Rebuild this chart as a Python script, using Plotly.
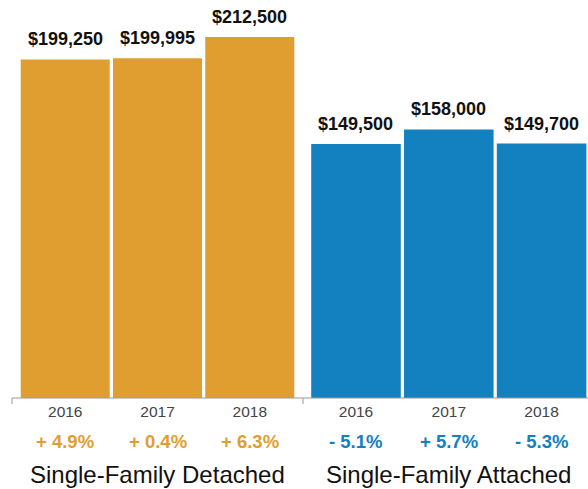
import plotly.graph_objects as go

years = ["2016", "2017", "2018"]
groups = ["Single-Family Detached", "Single-Family Attached"]
detached_prices = [199250, 199995, 212500]
attached_prices = [149500, 158000, 149700]
detached_change = [4.9, 0.4, 6.3]
attached_change = [-5.1, 5.7, -5.3]
colors = ["#E09E30", "#1380BF"]

W, H = 588, 489
base_y = 398  # plot bottom in px

fig = go.Figure()
series = [detached_prices, attached_prices]
changes = [detached_change, attached_change]
axes = [("x", "y"), ("x2", "y2")]
FONT = "Liberation Sans, Arial, sans-serif"

annotations = []
for gi, (vals, chg) in enumerate(zip(series, changes)):
    xa, ya = axes[gi]
    fig.add_trace(go.Bar(
        x=years, y=vals, marker=dict(color=colors[gi], line=dict(width=0)),
        xaxis=xa, yaxis=ya, hoverinfo="skip", showlegend=False,
    ))
    for i, (v, c) in enumerate(zip(vals, chg)):
        annotations.append(dict(
            x=i, y=v, xref=xa, yref=ya, text="<b>$" + f"{v:,.0f}" + "</b>", showarrow=False,
            yanchor="bottom", yshift=8,
            font=dict(family=FONT, size=18, color="#111111"),
        ))
        sign = "+" if c >= 0 else "-"
        annotations.append(dict(
            x=i, y=-43 / base_y, xref=xa, yref="paper", text=f"<b>{sign} {abs(c):.1f}%</b>",
            showarrow=False, yanchor="middle",
            font=dict(family=FONT, size=18.5, color=colors[gi]),
        ))
    annotations.append(dict(
        x=1, y=-76 / base_y, xref=xa, yref="paper", text=groups[gi],
        showarrow=False, yanchor="middle",
        font=dict(family=FONT, size=24, color="#111111"),
    ))

shapes = [
    dict(type="line", xref="paper", yref="paper", x0=12 / W, x1=1, y0=0, y1=0,
         line=dict(color="#999999", width=1)),
    dict(type="line", xref="paper", yref="paper", x0=12 / W, x1=12 / W, y0=0, y1=-6 / base_y,
         line=dict(color="#999999", width=1)),
    dict(type="line", xref="paper", yref="paper", x0=303 / W, x1=303 / W, y0=0, y1=-6 / base_y,
         line=dict(color="#999999", width=1)),
]

ymax = 234200
tickfont = dict(family=FONT, size=15.5, color="#444444")
fig.update_layout(
    width=W, height=H,
    margin=dict(l=0, r=0, t=0, b=H - base_y),
    plot_bgcolor="white", paper_bgcolor="white",
    bargap=0.035,
    xaxis=dict(domain=[12 / W, 303 / W], type="category", range=[-0.577, 2.577],
               showgrid=False, showline=False, ticks="", tickfont=tickfont, fixedrange=True,
               ticklabelstandoff=2),
    xaxis2=dict(domain=[303 / W, 1], type="category", range=[-0.571, 2.50],
                showgrid=False, showline=False, ticks="", tickfont=tickfont, fixedrange=True,
                ticklabelstandoff=2),
    yaxis=dict(range=[0, ymax], visible=False, fixedrange=True),
    yaxis2=dict(range=[0, ymax], visible=False, anchor="x2", fixedrange=True),
    annotations=annotations,
    shapes=shapes,
)
fig.write_html("out.html", config={"displayModeBar": False},
               post_script="document.body.style.margin='0';")
